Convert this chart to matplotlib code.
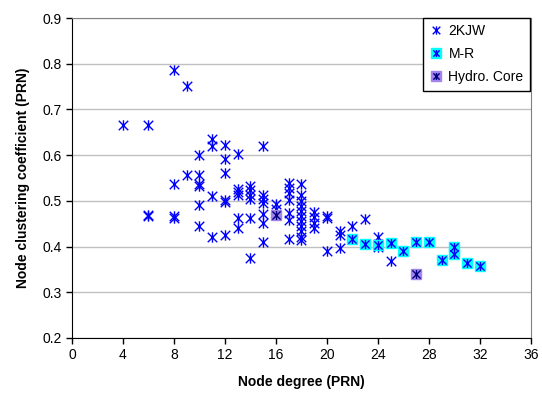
import numpy as np
import matplotlib
matplotlib.use('Agg')
import matplotlib.pyplot as plt
from matplotlib.path import Path
from matplotlib.lines import Line2D

plt.rcParams['font.family'] = ['Liberation Sans', 'DejaVu Sans']

# 2KJW nodes: degree and clustering coefficient
kjw_x = [4, 6, 6, 6,
         8, 8, 8, 8,
         9, 9,
         10, 10, 10, 10, 10, 10,
         11, 11, 11, 11,
         12, 12, 12, 12, 12, 12,
         13, 13, 13, 13, 13, 13,
         14, 14, 14, 14, 14, 14,
         15, 15, 15, 15, 15, 15, 15,
         16, 16,
         17, 17, 17, 17, 17, 17, 17,
         18, 18, 18, 18, 18, 18, 18, 18, 18, 18, 18,
         19, 19, 19, 19,
         20, 20, 20,
         21, 21, 21,
         22, 22,
         23, 23,
         24, 24, 24,
         25, 25,
         26, 27, 28, 29, 30, 30, 31, 32]
kjw_y = [0.667, 0.667, 0.470, 0.467,
         0.787, 0.536, 0.466, 0.463,
         0.752, 0.557,
         0.600, 0.557, 0.537, 0.533, 0.491, 0.445,
         0.636, 0.620, 0.510, 0.420,
         0.622, 0.591, 0.562, 0.502, 0.498, 0.425,
         0.603, 0.527, 0.520, 0.513, 0.462, 0.440,
         0.533, 0.524, 0.513, 0.505, 0.462, 0.376,
         0.620, 0.513, 0.504, 0.495, 0.471, 0.451, 0.411,
         0.493, 0.482,
         0.539, 0.528, 0.517, 0.502, 0.473, 0.458, 0.416,
         0.537, 0.513, 0.500, 0.489, 0.478, 0.467, 0.455, 0.444, 0.433, 0.422, 0.414,
         0.476, 0.464, 0.451, 0.440,
         0.466, 0.462, 0.391,
         0.433, 0.425, 0.396,
         0.444, 0.417,
         0.461, 0.406,
         0.422, 0.406, 0.400,
         0.407, 0.369,
         0.391, 0.410, 0.410, 0.370, 0.400, 0.384, 0.365, 0.358]

# M-R nodes
mr_x = [22, 23, 24, 25, 26, 27, 28, 29, 30, 30, 31, 32]
mr_y = [0.417, 0.406, 0.403, 0.407, 0.391, 0.410, 0.410, 0.370, 0.400, 0.384, 0.365, 0.358]

# hydrophobic core nodes
hc_x = [16, 27]
hc_y = [0.469, 0.340]

# excel-like star marker: x with a vertical bar
star = Path([(-1, -1), (1, 1), (-1, 1), (1, -1), (0, -1.1), (0, 1.1)],
            [Path.MOVETO, Path.LINETO, Path.MOVETO, Path.LINETO, Path.MOVETO, Path.LINETO])

fig = plt.figure(figsize=(5.42, 3.96), dpi=100)
ax = fig.add_axes([0.1328, 0.1465, 0.8469, 0.808])

ax.plot(kjw_x, kjw_y, ls='none', marker=star, ms=7.5, mew=1.0, color='#0000ff', zorder=3)

ax.plot(mr_x, mr_y, ls='none', marker='s', ms=7.5, mfc='#00ffff', mec='#00ffff', zorder=4)
ax.plot(mr_x, mr_y, ls='none', marker=star, ms=6.5, mew=1.0, color='#0000ff', zorder=5)

ax.plot(hc_x, hc_y, ls='none', marker='s', ms=7.5, mfc='#a384ec', mec='#a384ec', zorder=4)
ax.plot(hc_x, hc_y, ls='none', marker=star, ms=6.5, mew=1.0, color='#000080', zorder=5)

ax.set_xlim(0, 36)
ax.set_ylim(0.2, 0.9)
ax.set_xticks(np.arange(0, 37, 4))
ax.set_yticks(np.arange(0.2, 0.91, 0.1))
ax.set_yticklabels(['%.1f' % v for v in np.arange(0.2, 0.91, 0.1)])
ax.yaxis.grid(True, color='#c0c0c0', lw=1)
ax.set_axisbelow(True)
ax.tick_params(direction='out', length=4, width=1, labelsize=10, colors='black')
for s in ['top', 'right']:
    ax.spines[s].set_color('#808080')
for s in ['left', 'bottom']:
    ax.spines[s].set_color('black')

ax.set_xlabel('Node degree (PRN)', fontsize=10, fontweight='bold', labelpad=9)
ax.set_ylabel('Node clustering coefficient (PRN)', fontsize=10, fontweight='bold', labelpad=9)

handles = [
    Line2D([], [], ls='none', marker=star, ms=6, mew=1.0, color='#0000ff'),
    (Line2D([], [], ls='none', marker='s', ms=7, mfc='#00ffff', mec='#00ffff'),
     Line2D([], [], ls='none', marker=star, ms=5, mew=1.0, color='#0000ff')),
    (Line2D([], [], ls='none', marker='s', ms=7, mfc='#a384ec', mec='#a384ec'),
     Line2D([], [], ls='none', marker=star, ms=5, mew=1.0, color='#000080')),
]
leg = ax.legend(handles, ['2KJW', 'M-R', 'Hydro. Core'], loc='upper right',
                bbox_to_anchor=(0.9975, 1.0), borderaxespad=0, fontsize=10, frameon=True,
                fancybox=False, edgecolor='black', framealpha=1, handlelength=1.0,
                handletextpad=0.4, borderpad=0.45, labelspacing=0.65)
leg.get_frame().set_linewidth(1)

fig.savefig('out.png', dpi=100)
